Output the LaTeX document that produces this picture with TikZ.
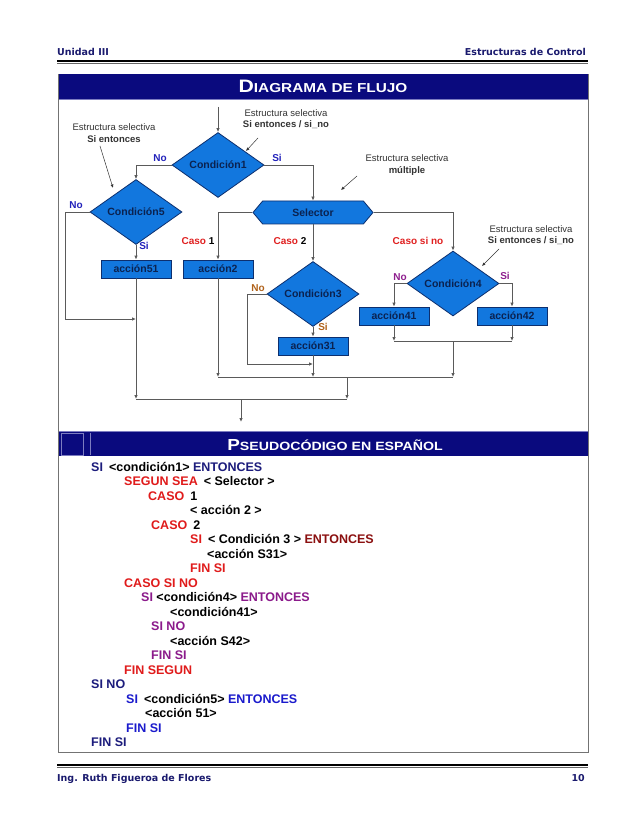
\documentclass[tikz,border=0pt]{standalone}
\usepackage{fontspec}
\setmainfont{Liberation Sans}
\newfontfamily\hdrfont{DejaVu Sans}
\newfontfamily\titlefont[FakeStretch=1.18]{Liberation Sans}
\usetikzlibrary{shapes.geometric,shapes.symbols,arrows.meta}
\definecolor{hnavy}{HTML}{1A1A6E}
\definecolor{barnavy}{HTML}{0A0A7E}
\definecolor{barline}{HTML}{7C7CC0}
\definecolor{flb}{HTML}{1277DE}
\definecolor{dkb}{HTML}{0D2F6E}
\definecolor{txtb}{HTML}{0B2250}
\definecolor{lg}{HTML}{5A5A5A}
\definecolor{anno}{HTML}{333333}
\definecolor{lblue}{HTML}{2222BB}
\definecolor{lbrown}{HTML}{B0621A}
\definecolor{lpurple}{HTML}{8E1E8E}
\definecolor{lred}{HTML}{E02020}
\definecolor{pnavy}{HTML}{1C1C7C}
\definecolor{pred}{HTML}{E01B1B}
\definecolor{pmar}{HTML}{8B1010}
\definecolor{ppur}{HTML}{8B1A8B}
\definecolor{pblu}{HTML}{1A1ACC}
\newcommand\kw[2]{\textcolor{#1}{#2}}
\begin{document}
\begin{tikzpicture}[x=1pt,y=-1pt,
  dia/.style={diamond, draw=dkb, fill=flb, line width=0.8pt, minimum width=92pt, minimum height=45pt, inner sep=0pt, font=\bfseries\fontsize{10.5}{10.5}\selectfont, text=txtb},
  actbox/.style={rectangle, draw=dkb, fill=flb, line width=0.8pt, minimum width=70pt, minimum height=18pt, inner sep=0pt, font=\bfseries\fontsize{10.5}{10.5}\selectfont, text=txtb},
  selbox/.style={signal, signal to=east and west, signal pointer angle=100, draw=dkb, fill=flb, line width=0.8pt, minimum width=120pt, minimum height=23pt, inner sep=0pt, font=\bfseries\fontsize{10.5}{10.5}\selectfont, text=txtb},
  arr/.style={draw=lg, line width=0.8pt, -{Latex[length=4pt,width=3.5pt]}},
  ln/.style={draw=lg, line width=0.8pt},
  lab/.style={font=\bfseries\fontsize{10}{10}\selectfont, inner sep=0pt},
  annot/.style={font=\fontsize{9.5}{11.5}\selectfont, text=anno, align=center, inner sep=0pt},
  annarr/.style={draw=anno, line width=0.5pt, -{Latex[length=3.5pt,width=3pt]}},
  hdr/.style={font=\hdrfont\bfseries\fontsize{9.5}{10}\selectfont, text=hnavy, inner sep=0pt},
  pc/.style={anchor=base west, inner sep=0pt, font=\bfseries\fontsize{12.5}{12.5}\selectfont}
]
\useasboundingbox (0,0) rectangle (638,826);
\fill[white] (0,0) rectangle (638,826);
% header
\node[hdr, anchor=base west] (hl) at (57,56) {Unidad III};
\node[hdr, anchor=base east] (hr) at (586,56) {Estructuras de Control};
\draw[black, line width=2.5pt] (57,61) -- (588,61);
\draw[black!60, line width=0.5pt] (57,63.5) -- (588,63.5);
% outer box
\draw[black!55, line width=0.8pt] (58,74) rectangle (588,752);
% title bar 1
\fill[barnavy] (58.5,74.5) rectangle (587.5,99);
\draw[barline, line width=0.5pt] (58.5,99) -- (587.5,99);
\node[text=white, inner sep=0pt, anchor=base] (t1) at (323,93) {\titlefont\bfseries{\fontsize{18}{18}\selectfont D}{\fontsize{13}{13}\selectfont IAGRAMA DE FLUJO}};
% title bar 2
\fill[barnavy] (58.5,431) rectangle (587.5,456);
\draw[barline, line width=0.6pt] (61,433) rectangle (83,455);
\draw[barline, line width=0.6pt] (90,433) -- (90,455);
\draw[barline, line width=0.5pt] (58.5,431) -- (587.5,431);
\node[text=white, inner sep=0pt, anchor=base] (t2) at (335,450) {\titlefont\bfseries{\fontsize{16}{16}\selectfont P}{\fontsize{12}{12}\selectfont SEUDOCÓDIGO EN ESPAÑOL}};

% flowchart nodes
\node[dia] (c1) at (218,165) {Condición1};
\node[dia] (c5) at (136,212) {Condición5};
\node[selbox] (sel) at (313,212.5) {Selector};
\node[actbox] (a51) at (136,269) {acción51};
\node[actbox] (a2) at (218,269) {acción2};
\node[dia] (c3) at (313,294) {Condición3};
\node[actbox] (a31) at (313,346) {acción31};
\node[dia] (c4) at (453,283.5) {Condición4};
\node[actbox] (a41) at (394,316) {acción41};
\node[actbox] (a42) at (512,316) {acción42};

\coordinate (start) at (218,107);
\coordinate (j5) at (136,319);
\coordinate (jA) at (136,399);
\coordinate (j3) at (313,364);
\coordinate (jB) at (313,377);
\coordinate (jC) at (218,377);
\coordinate (j41) at (394,341);
\coordinate (j42) at (512,341);
\coordinate (jD) at (453,341);
\coordinate (jE) at (453,377);
\coordinate (jF) at (347,377);
\coordinate (jG) at (347,399);
\coordinate (jH) at (241,399);
\coordinate (fin) at (241,422);

% connectors
\draw[arr] (start) -- (c1.north);
\draw[arr] (c1.west) -| (c5.north);
\draw[arr] (c1.east) -| (sel.north);
\draw[arr] (c5.west) -- ++(-24,0) |- (j5);
\draw[arr] (c5.south) -- (a51.north);
\draw[arr] (a51.south) -- (jA);
\draw[arr] (sel.west) -| (a2.north);
\draw[arr] (sel.south) -- (c3.north);
\draw[arr] (sel.east) -| (c4.north);
\draw[arr] (c3.west) -- ++(-19,0) |- (j3);
\draw[arr] (c3.south) -- (a31.north);
\draw[arr] (a31.south) -- (jB);
\draw[arr] (a2.south) -- (jC);
\draw[arr] (c4.west) -| (a41.north);
\draw[arr] (c4.east) -| (a42.north);
\draw[arr] (a41.south) -- (j41);
\draw[arr] (a42.south) -- (j42);
\draw[ln] (j41) -- (j42);
\draw[arr] (jD) -- (jE);
\draw[ln] (jC) -- (jE);
\draw[arr] (jF) -- (jG);
\draw[ln] (jA) -- (jG);
\draw[arr] (jH) -- (fin);

% branch labels
\node[lab, text=lblue] (l1n) at (160,158) {No};
\node[lab, text=lblue] (l1s) at (277,158) {Si};
\node[lab, text=lblue] (l5n) at (76,205) {No};
\node[lab, text=lblue] (l5s) at (144,246) {Si};
\node[lab] (lc1) at (198,241) {\textcolor{lred}{Caso} 1};
\node[lab] (lc2) at (290,241) {\textcolor{lred}{Caso} 2};
\node[lab, text=lred] (lc3) at (418,241) {Caso si no};
\node[lab, text=lbrown] (l3n) at (258,288) {No};
\node[lab, text=lbrown] (l3s) at (323,327) {Si};
\node[lab, text=lpurple] (l4n) at (400,277) {No};
\node[lab, text=lpurple] (l4s) at (505,276) {Si};

% annotations
\node[annot] (an1) at (114,133) {Estructura selectiva\\\textbf{Si entonces}};
\draw[annarr] (100,146) -- (113,188);
\node[annot] (an2) at (286,119) {Estructura selectiva\\\textbf{Si entonces / si\_no}};
\draw[annarr] (258,138) -- (246,151);
\node[annot] (an3) at (407,165) {Estructura selectiva\\\textbf{múltiple}};
\draw[annarr] (357,176) -- (341,190);
\node[annot] (an4) at (531,235) {Estructura selectiva\\\textbf{Si entonces / si\_no}};
\draw[annarr] (499,249) -- (482,266);

% pseudocode
\node[pc] (p1) at (91,471) {\kw{pnavy}{SI}\hspace{6pt}<condición1> \kw{pnavy}{ENTONCES}};
\node[pc] (p2) at (124,485.5) {\kw{pred}{SEGUN SEA}\hspace{6pt}< Selector >};
\node[pc] (p3) at (148,500) {\kw{pred}{CASO}\hspace{6pt}1};
\node[pc] (p4) at (190,514.5) {< acción 2 >};
\node[pc] (p5) at (151,529) {\kw{pred}{CASO}\hspace{6pt}2};
\node[pc] (p6) at (190,543.5) {\kw{pred}{SI}\hspace{6pt}< Condición 3 > \kw{pmar}{ENTONCES}};
\node[pc] (p7) at (207,558) {<acción S31>};
\node[pc] (p8) at (190,572.5) {\kw{pred}{FIN SI}};
\node[pc] (p9) at (124,587) {\kw{pred}{CASO SI NO}};
\node[pc] (p10) at (141,601.5) {\kw{ppur}{SI} <condición4> \kw{ppur}{ENTONCES}};
\node[pc] (p11) at (170,616) {<condición41>};
\node[pc] (p12) at (151,630.5) {\kw{ppur}{SI NO}};
\node[pc] (p13) at (170,645) {<acción S42>};
\node[pc] (p14) at (151,659.5) {\kw{ppur}{FIN SI}};
\node[pc] (p15) at (124,674) {\kw{pred}{FIN SEGUN}};
\node[pc] (p16) at (91,688.5) {\kw{pnavy}{SI NO}};
\node[pc] (p17) at (126,703) {\kw{pblu}{SI}\hspace{6pt}<condición5> \kw{pblu}{ENTONCES}};
\node[pc] (p18) at (145,717.5) {<acción 51>};
\node[pc] (p19) at (126,732) {\kw{pblu}{FIN SI}};
\node[pc] (p20) at (91,746.5) {\kw{pnavy}{FIN SI}};

% footer
\draw[black, line width=2.5pt] (57,765) -- (588,765);
\draw[black!60, line width=0.5pt] (57,767.5) -- (588,767.5);
\node[hdr, anchor=base west] (fl) at (57,781) {Ing. Ruth Figueroa de Flores};
\node[hdr, anchor=base east] (fr) at (585,781) {10};
\end{tikzpicture}
\end{document}
